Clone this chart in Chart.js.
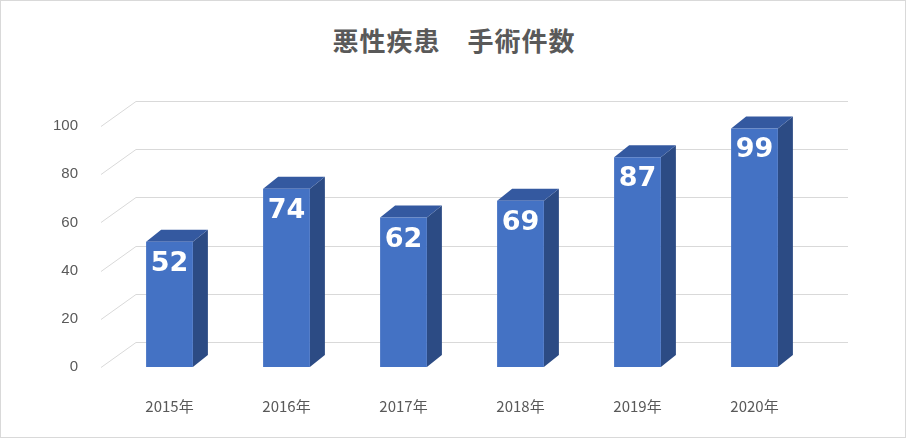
<!DOCTYPE html>
<html><head><meta charset="utf-8">
<script src="https://cdn.jsdelivr.net/npm/chart.js@4"></script>
<style>
html,body{margin:0;padding:0;background:#fff;}
#wrap{position:relative;width:906px;height:438px;box-sizing:border-box;border:1px solid #d9d9d9;}
#title{position:absolute;top:20px;left:0;width:906px;text-align:center;font:bold 26px "Noto Sans CJK JP","Noto Sans";color:#595959;letter-spacing:1px;}
canvas{position:absolute;left:0;top:0;}
</style></head><body>
<div id="wrap"><div id="title">悪性疾患　手術件数</div><canvas id="c" width="906" height="438"></canvas></div>
<script>
const categories=["2015年","2016年","2017年","2018年","2019年","2020年"];
const values=[52,74,62,69,87,99];
const yTicks=[0,20,40,60,80,100];
const DX=15,DY=-12,WX=35,WY=-25;
const deco={id:'deco',
beforeDatasetsDraw(ch){
 const c=ch.ctx,a=ch.chartArea,y=ch.scales.y;
 c.save();c.strokeStyle='#d9d9d9';c.lineWidth=1;
 yTicks.forEach(v=>{const p=Math.round(y.getPixelForValue(v))+0.5;
  c.beginPath();c.moveTo(a.left-10,p);c.lineTo(a.left-10+WX,p+WY);c.lineTo(a.right+WX,p+WY);c.stroke();});
 const base=y.getPixelForValue(0);
 ch.getDatasetMeta(0).data.forEach(b=>{
  const l=b.x-b.width/2,r=b.x+b.width/2,t=b.y;
  c.fillStyle='#2C4B84';c.beginPath();c.moveTo(r,t);c.lineTo(r+DX,t+DY);c.lineTo(r+DX,base+DY);c.lineTo(r,base);c.closePath();c.fill();
  c.fillStyle='#3459A0';c.beginPath();c.moveTo(l,t);c.lineTo(r,t);c.lineTo(r+DX,t+DY);c.lineTo(l+DX,t+DY);c.closePath();c.fill();
 });c.restore();},
afterDatasetsDraw(ch){
 const c=ch.ctx;c.save();c.fillStyle='#fff';c.font='bold 27px "DejaVu Sans"';c.textAlign='center';c.textBaseline='middle';
 ch.getDatasetMeta(0).data.forEach((b,i)=>c.fillText(String(values[i]),b.x,b.y+22));c.restore();}
};
new Chart(document.getElementById('c'),{type:'bar',
data:{labels:categories,datasets:[{data:values,backgroundColor:'#4472C4',categoryPercentage:0.8,barPercentage:0.5}]},
options:{responsive:false,animation:false,
 layout:{padding:{left:20,right:94,top:125,bottom:10}},
 plugins:{legend:{display:false},tooltip:{enabled:false}},
 scales:{
  y:{min:0,max:100,ticks:{stepSize:20,padding:25,color:'#595959',font:{size:15,family:'"Liberation Sans"'}},grid:{display:false},border:{display:false},afterFit(s){s.width=90;}},
  x:{ticks:{padding:22,color:'#595959',font:{size:15,family:'"Noto Sans CJK JP"'}},grid:{display:false},border:{display:false},afterFit(s){s.height=62;}}
 }},plugins:[deco]});
</script></body></html>
